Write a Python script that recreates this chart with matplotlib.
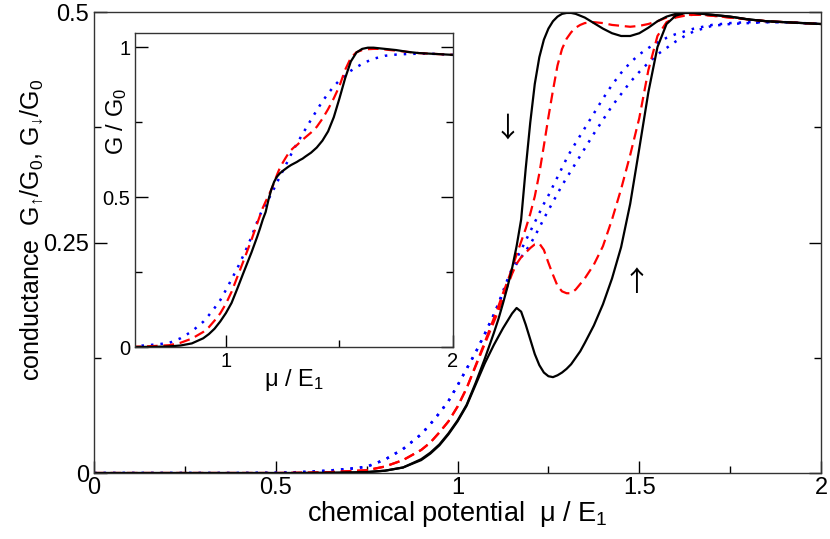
import matplotlib
matplotlib.use("Agg")
import matplotlib.pyplot as plt
from matplotlib.ticker import MultipleLocator, FixedLocator, FixedFormatter
import numpy as np

plt.rcParams['font.family'] = ['Liberation Sans', 'DejaVu Sans']
plt.rcParams['mathtext.fontset'] = 'custom'
plt.rcParams['mathtext.rm'] = 'Liberation Sans'
plt.rcParams['mathtext.it'] = 'Liberation Sans:italic'
plt.rcParams['mathtext.bf'] = 'Liberation Sans:bold'

# chemical potential mu / E1 (shared grid)
mu = [0.0, 0.1, 0.2, 0.3, 0.4, 0.5,
      0.55, 0.6, 0.65, 0.7, 0.75, 0.8, 0.85, 0.9,
      0.925, 0.95, 0.975, 1.0, 1.025, 1.05, 1.075, 1.1,
      1.1125, 1.125, 1.1375, 1.15, 1.1625, 1.175, 1.1875, 1.2, 1.2125, 1.225,
      1.2375, 1.25, 1.2625, 1.275, 1.2875, 1.3, 1.3125, 1.325, 1.3375, 1.35,
      1.375, 1.4, 1.425, 1.45, 1.475, 1.5, 1.525, 1.55, 1.575, 1.6, 1.625,
      1.65, 1.675, 1.7,
      1.75, 1.8, 1.85, 1.9, 1.95, 2.0]

# black solid: spin up / spin down
black_up = [0, 0, 0, 0, 0, 0,
            0.0, 0.0001, 0.0002, 0.0005, 0.001, 0.0025, 0.006, 0.014,
            0.021, 0.030, 0.042, 0.056, 0.073, 0.096, 0.119, 0.139,
            0.148, 0.157, 0.165, 0.173, 0.179, 0.175, 0.161, 0.145, 0.129, 0.117,
            0.109, 0.105, 0.104, 0.106, 0.109, 0.113, 0.118, 0.125, 0.132, 0.141,
            0.160, 0.183, 0.211, 0.245, 0.292, 0.352, 0.413, 0.462, 0.487, 0.496, 0.499,
            0.499, 0.498, 0.497,
            0.495, 0.492, 0.490, 0.489, 0.488, 0.487]
black_down = [0, 0, 0, 0, 0, 0,
              0.0, 0.0001, 0.0002, 0.0005, 0.001, 0.0025, 0.006, 0.015,
              0.022, 0.031, 0.043, 0.057, 0.074, 0.098, 0.124, 0.152,
              0.167, 0.184, 0.202, 0.222, 0.246, 0.275, 0.330, 0.380, 0.422, 0.451,
              0.470, 0.482, 0.490, 0.495, 0.498, 0.499, 0.499, 0.498, 0.496, 0.494,
              0.488, 0.482, 0.477, 0.474, 0.474, 0.477, 0.483, 0.490, 0.495, 0.498, 0.499,
              0.499, 0.498, 0.497,
              0.495, 0.492, 0.490, 0.489, 0.488, 0.487]
# red dashed
red_up = [0, 0, 0, 0, 0, 0,
          0.0002, 0.0005, 0.001, 0.002, 0.003, 0.007, 0.014, 0.025,
          0.033, 0.044, 0.056, 0.072, 0.092, 0.116, 0.140, 0.164,
          0.176, 0.189, 0.203, 0.216, 0.227, 0.234, 0.239, 0.244, 0.248, 0.249,
          0.242, 0.228, 0.215, 0.203, 0.197, 0.195, 0.195, 0.199, 0.205, 0.211,
          0.226, 0.246, 0.275, 0.308, 0.345, 0.385, 0.437, 0.474, 0.489, 0.494, 0.496,
          0.497, 0.497, 0.496,
          0.494, 0.492, 0.490, 0.489, 0.488, 0.487]
red_down = [0, 0, 0, 0, 0, 0,
            0.0002, 0.0005, 0.001, 0.002, 0.003, 0.007, 0.014, 0.025,
            0.033, 0.044, 0.056, 0.072, 0.092, 0.117, 0.142, 0.168,
            0.181, 0.195, 0.208, 0.222, 0.237, 0.251, 0.265, 0.281, 0.300, 0.325,
            0.355, 0.386, 0.415, 0.442, 0.460, 0.471, 0.478, 0.483, 0.486, 0.488,
            0.489, 0.488, 0.486, 0.485, 0.484, 0.485, 0.487, 0.490, 0.494, 0.496, 0.497,
            0.497, 0.497, 0.496,
            0.494, 0.492, 0.490, 0.489, 0.488, 0.487]
# blue dotted
blue_up = [0, 0, 0, 0, 0, 0.0003,
           0.0008, 0.0015, 0.0028, 0.0045, 0.0068, 0.0145, 0.026, 0.042,
           0.053, 0.065, 0.078, 0.095, 0.113, 0.131, 0.151, 0.172,
           0.183, 0.195, 0.207, 0.218, 0.227, 0.234, 0.241, 0.248, 0.257, 0.266,
           0.276, 0.285, 0.294, 0.303, 0.312, 0.320, 0.328, 0.336, 0.344, 0.352,
           0.368, 0.383, 0.398, 0.411, 0.424, 0.435, 0.445, 0.454, 0.461, 0.468, 0.474,
           0.479, 0.482, 0.485,
           0.487, 0.488, 0.489, 0.489, 0.488, 0.487]
blue_down = [0, 0, 0, 0, 0, 0.0003,
             0.0008, 0.0015, 0.0028, 0.0045, 0.0068, 0.0145, 0.026, 0.042,
             0.053, 0.065, 0.078, 0.095, 0.113, 0.131, 0.151, 0.172,
             0.184, 0.197, 0.210, 0.222, 0.233, 0.242, 0.252, 0.262, 0.272, 0.282,
             0.292, 0.301, 0.311, 0.321, 0.331, 0.341, 0.350, 0.358, 0.366, 0.374,
             0.390, 0.406, 0.421, 0.434, 0.445, 0.454, 0.461, 0.467, 0.472, 0.476, 0.479,
             0.482, 0.484, 0.486,
             0.488, 0.489, 0.489, 0.489, 0.488, 0.487]

main_xticks = [0, 0.5, 1, 1.5, 2]
main_xticklabels = ['0', '0.5', '1', '1.5', '2']
main_yticks = [0, 0.25, 0.5]
main_yticklabels = ['0', '0.25', '0.5']
inset_xticks = [1, 2]
inset_xticklabels = ['1', '2']
inset_yticks = [0, 0.5, 1]
inset_yticklabels = ['0', '0.5', '1']

mu = np.array(mu)
series = [
    (np.array(black_up), np.array(black_down), dict(color='black', lw=1.6, ls='-')),
    (np.array(red_up), np.array(red_down), dict(color='#ff0000', lw=1.6, ls=(0, (4.8, 2.6)))),
    (np.array(blue_up), np.array(blue_down), dict(color='#0000ff', lw=1.8, ls=(0, (1.0, 2.8)))),
]

fig = plt.figure(figsize=(8.30, 5.39), dpi=100)
ax = fig.add_axes([0.1133, 0.1224, 0.8759, 0.8553])
for up, dn, st in series[::-1]:
    ax.plot(mu, up, **st)
    ax.plot(mu, dn, **st)

ax.set_xlim(0, 2)
ax.set_ylim(0, 0.5)
ax.xaxis.set_major_locator(FixedLocator(main_xticks))
ax.xaxis.set_major_formatter(FixedFormatter(main_xticklabels))
ax.xaxis.set_minor_locator(MultipleLocator(0.25))
ax.yaxis.set_major_locator(FixedLocator(main_yticks))
ax.yaxis.set_major_formatter(FixedFormatter(main_yticklabels))
ax.yaxis.set_minor_locator(MultipleLocator(0.125))
ax.tick_params(which='both', direction='in', top=False, right=True, width=1.0, labelsize=17)
ax.tick_params(which='major', length=9)
ax.tick_params(which='minor', length=5)
ax.tick_params(axis='x', pad=3)
for s in ax.spines.values():
    s.set_linewidth(1.0)
    s.set_color('#333333')
ax.set_xlabel('chemical potential  μ / E$_1$', fontsize=19.5, labelpad=0)
ax.set_ylabel('conductance  G$_{↑}$/G$_0$, G$_{↓}$/G$_0$', fontsize=18)
ax.yaxis.set_label_coords(-0.067, 0.527)

ax.text(1.137, 0.374, '↓', fontsize=20, ha='center', va='center',
        family=['Noto Sans CJK SC', 'DejaVu Sans'])
ax.text(1.492, 0.206, '↑', fontsize=20, ha='center', va='center',
        family=['Noto Sans CJK SC', 'DejaVu Sans'])

ins = fig.add_axes([0.1627, 0.3562, 0.3831, 0.5826])
for up, dn, st in series[::-1]:
    ins.plot(mu, up + dn, **st)
ins.set_xlim(0.6, 2)
ins.set_ylim(0, 1.047)
ins.xaxis.set_major_locator(FixedLocator(inset_xticks))
ins.xaxis.set_major_formatter(FixedFormatter(inset_xticklabels))
ins.xaxis.set_minor_locator(FixedLocator([1.5]))
ins.yaxis.set_major_locator(FixedLocator(inset_yticks))
ins.yaxis.set_major_formatter(FixedFormatter(inset_yticklabels))
ins.yaxis.set_minor_locator(MultipleLocator(0.25))
ins.tick_params(which='both', direction='in', top=False, right=True, width=1.0, labelsize=14.5)
ins.tick_params(which='major', length=9)
ins.tick_params(which='minor', length=5)
for s in ins.spines.values():
    s.set_linewidth(1.0)
    s.set_color('#333333')
ins.set_xlabel('μ / E$_1$', fontsize=17, labelpad=-3)
ins.set_ylabel('G / G$_0$', fontsize=17)
ins.yaxis.set_label_coords(-0.02, 0.72)

fig.savefig('out.png', dpi=100)
